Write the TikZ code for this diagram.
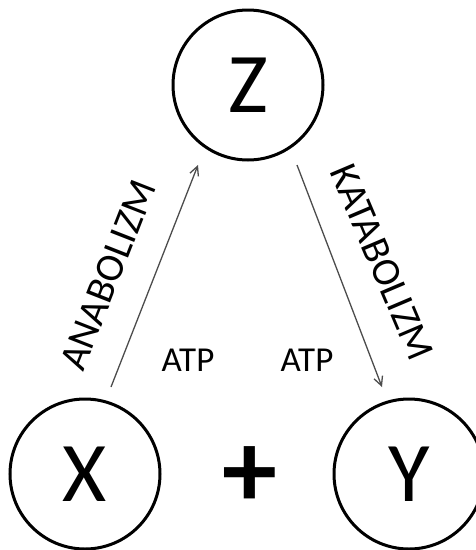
\documentclass[tikz,border=0pt]{standalone}
\usepackage{fontspec}
\setmainfont{Carlito}
\usetikzlibrary{arrows.meta}
\begin{document}
\begin{tikzpicture}[x=1pt,y=-1pt,
  circ/.style={draw=black,line width=3pt,circle,minimum size=150pt,inner sep=0pt,
    font=\fontsize{85}{85}\selectfont},
  arr/.style={draw=black!70,line width=1.3pt,-{Straight Barb[length=9pt,width=9pt]}},
  lbl/.style={font=\fontsize{40}{40}\selectfont,inner sep=0pt},
  atp/.style={font=\fontsize{35}{35}\selectfont,inner sep=0pt}]
\useasboundingbox (0,0) rectangle (476,550);
\node[circ] (Z) at (248,85) {Z};
\node[circ] (X) at (85,474) {X};
\node[circ] (Y) at (409,474) {Y};
\node[font=\bfseries\fontsize{110}{110}\selectfont,inner sep=0pt] (plus) at (250,477) {+};
\coordinate (a1) at (111,387);
\coordinate (a2) at (198,165);
\coordinate (k1) at (297,165);
\coordinate (k2) at (382,387);
\draw[arr] (a1) -- (a2);
\draw[arr] (k1) -- (k2);
\node[lbl,rotate=68.6] (ana) at (108,275) {ANABOLIZM};
\node[lbl,rotate=-67] (kata) at (382,262) {KATABOLIZM};
\node[atp] (atp1) at (188,360) {ATP};
\node[atp] (atp2) at (307,360) {ATP};
\end{tikzpicture}
\end{document}
